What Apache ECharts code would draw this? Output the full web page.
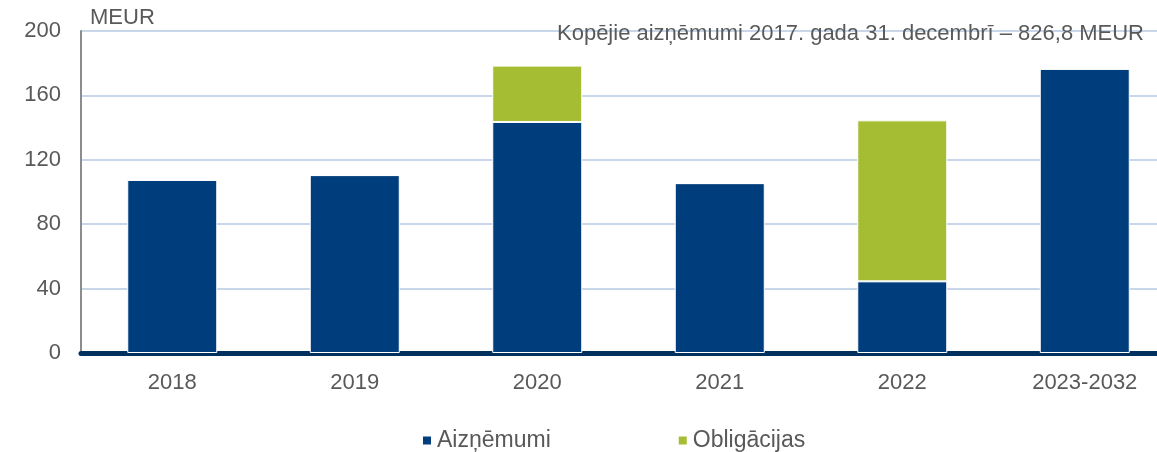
<!DOCTYPE html>
<html>
<head>
<meta charset="utf-8">
<script src="https://cdn.jsdelivr.net/npm/echarts@6/dist/echarts.min.js"></script>
<style>
  html, body { margin: 0; padding: 0; background: #fff; }
  #chart { width: 1157px; height: 452px; }
</style>
</head>
<body>
<div id="chart"></div>
<script>
var years = ['2018', '2019', '2020', '2021', '2022', '2023-2032'];
var loans = [107.5, 110.5, 143.5, 105.5, 44.5, 176.5];
var bonds = [0, 0, 35, 0, 100, 0];
var yTicks = [0, 40, 80, 120, 160, 200];

var font = 'Liberation Sans, Arial, sans-serif';
var textGrey = '#595959';

var myChart = echarts.init(document.getElementById('chart'));

var option = {
  animation: false,
  textStyle: { fontFamily: font },
  title: {
    text: 'Kopējie aizņēmumi 2017. gada 31. decembrī – 826,8 MEUR',
    right: 8,
    top: 18,
    textStyle: { fontSize: 22, fontWeight: 'normal', color: textGrey, fontFamily: font }
  },
  legend: {
    top: 424,
    left: 416,
    icon: 'rect',
    itemWidth: 10,
    itemHeight: 10,
    itemGap: 126,
    textStyle: { fontSize: 23, color: textGrey, fontFamily: font },
    data: ['Aizņēmumi', 'Obligācijas']
  },
  grid: { left: 81, right: -19, top: 31, bottom: 99, containLabel: false, outerBoundsMode: 'none' },
  xAxis: {
    type: 'category',
    data: years,
    axisTick: { show: false },
    axisLine: { lineStyle: { color: '#00305e', width: 5 } },
    axisLabel: { fontSize: 22, color: textGrey, margin: 19, fontFamily: font }
  },
  yAxis: {
    type: 'value',
    min: yTicks[0],
    max: yTicks[yTicks.length - 1],
    interval: 40,
    name: 'MEUR',
    nameLocation: 'end',
    nameGap: 2,
    nameTextStyle: { fontSize: 22, color: textGrey, align: 'left', padding: [0, 0, 0, 9], fontFamily: font },
    axisLine: { show: true, lineStyle: { color: '#8c8c8c', width: 2 } },
    axisTick: { show: false },
    axisLabel: { fontSize: 22, color: textGrey, margin: 20, fontFamily: font },
    splitLine: { lineStyle: { color: '#c8d6ea', width: 2 } }
  },
  series: [
    {
      name: 'Aizņēmumi',
      type: 'bar',
      stack: 'total',
      barWidth: 90,
      data: loans,
      itemStyle: { color: '#003d7c', borderColor: '#ffffff', borderWidth: 1 }
    },
    {
      name: 'Obligācijas',
      type: 'bar',
      stack: 'total',
      barWidth: 90,
      data: bonds,
      itemStyle: { color: '#a4bd33', borderColor: '#ffffff', borderWidth: 1 }
    }
  ]
};

myChart.setOption(option);
</script>
</body>
</html>
